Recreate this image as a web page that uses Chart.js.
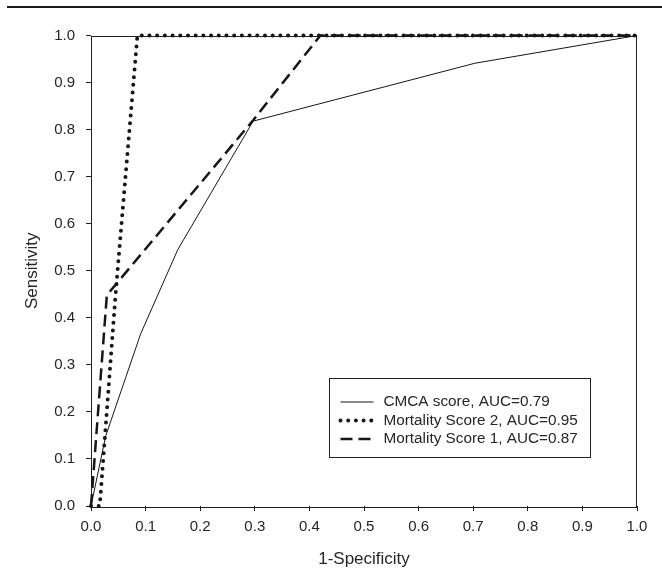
<!DOCTYPE html>
<html>
<head>
<meta charset="utf-8">
<script src="https://cdn.jsdelivr.net/npm/chart.js@4"></script>
<style>
  html, body { margin: 0; padding: 0; background: #fff; }
  #wrap { position: relative; width: 662px; height: 570px; }
  #rule { position: absolute; left: 7px; right: 0; top: 6px; height: 2px; background: #1a1a1a; }
  canvas { position: absolute; left: 0; top: 0; }
</style>
</head>
<body>
<div id="wrap">
  <canvas id="c" width="662" height="570"></canvas>
  <div id="rule"></div>
</div>
<script>
// ---- data ----
const cmcaX = [0, 0.027, 0.091, 0.159, 0.297, 0.703, 1.0];
const cmcaY = [0, 0.149, 0.366, 0.545, 0.818, 0.941, 1.0];

const ms2X = [0, 0.016, 0.045, 0.085, 1.0];
const ms2Y = [0, 0, 0.45, 1.0, 1.0];

const ms1X = [0, 0.029, 0.297, 0.42, 1.0];
const ms1Y = [0, 0.448, 0.82, 1.0, 1.0];

const seriesLabels = ["CMCA score, AUC=0.79", "Mortality Score 2, AUC=0.95", "Mortality Score 1, AUC=0.87"];
const xTitle = "1-Specificity";
const yTitle = "Sensitivity";

const toPts = (xs, ys) => xs.map((x, i) => ({ x: x, y: ys[i] }));
const INK = '#161616';
const TXT = '#262626';
const FONT = "'Liberation Sans', Arial, Helvetica, sans-serif";

const boxPlugin = {
  id: 'box',
  beforeDatasetsDraw(chart) {
    const a = chart.chartArea, ctx = chart.ctx;
    ctx.save();
    ctx.strokeStyle = '#222';
    ctx.lineWidth = 1;
    ctx.strokeRect(Math.round(a.left) + 0.5, Math.round(a.top) + 0.5,
                   Math.round(a.right - a.left) - 1, Math.round(a.bottom - a.top));
    ctx.restore();
  }
};

const legendPlugin = {
  id: 'boxLegend',
  afterDraw(chart) {
    const a = chart.chartArea, ctx = chart.ctx;
    const bx = a.left + 238.5, by = a.top + 343, bw = 261, bh = 79;
    ctx.save();
    ctx.fillStyle = '#fff';
    ctx.fillRect(bx, by, bw, bh);
    ctx.strokeStyle = '#222';
    ctx.lineWidth = 1;
    ctx.strokeRect(bx, by, bw, bh);
    const rowY = [by + 23.5, by + 42, by + 60.5];
    const sx0 = bx + 11, sx1 = bx + 44, tx = bx + 54;
    chart.data.datasets.forEach((ds, i) => {
      const y = rowY[i];
      ctx.beginPath();
      ctx.strokeStyle = INK;
      ctx.lineWidth = ds.borderWidth;
      ctx.lineCap = ds.borderCapStyle || 'butt';
      ctx.setLineDash(ds.borderDash || []);
      ctx.moveTo(sx0, y);
      ctx.lineTo(sx1, y);
      ctx.stroke();
      ctx.setLineDash([]);
      ctx.fillStyle = TXT;
      ctx.font = "15.3px " + FONT;
      ctx.textBaseline = 'middle';
      ctx.textAlign = 'left';
      ctx.fillText(ds.label, tx, y);
    });
    ctx.restore();
  }
};

new Chart(document.getElementById('c'), {
  type: 'scatter',
  data: {
    datasets: [
      { label: seriesLabels[0], data: toPts(cmcaX, cmcaY), showLine: true,
        borderColor: INK, borderWidth: 1, pointRadius: 0, clip: false },
      { label: seriesLabels[1], data: toPts(ms2X, ms2Y), showLine: true,
        borderColor: INK, borderWidth: 4, borderDash: [0, 7.7], borderCapStyle: 'round',
        pointRadius: 0, clip: false },
      { label: seriesLabels[2], data: toPts(ms1X, ms1Y), showLine: true,
        borderColor: INK, borderWidth: 2.5, borderDash: [12, 6],
        pointRadius: 0, clip: false }
    ]
  },
  options: {
    responsive: false,
    animation: false,
    devicePixelRatio: 1,
    layout: { padding: { top: 35.5, right: 25, left: 0, bottom: 0 } },
    plugins: { legend: { display: false }, tooltip: { enabled: false } },
    scales: {
      x: {
        type: 'linear', min: 0, max: 1,
        afterFit(s) { s.height = 64; },
        ticks: { stepSize: 0.1, padding: 7, color: TXT, font: { family: FONT, size: 15 },
                 callback: v => Number(v).toFixed(1), maxRotation: 0 },
        grid: { drawOnChartArea: false, drawTicks: true, tickLength: 5, color: '#222' },
        border: { display: false },
        title: { display: true, text: xTitle, color: TXT, font: { family: FONT, size: 17 },
                 padding: { top: 0, bottom: 0 } }
      },
      y: {
        type: 'linear', min: 0, max: 1,
        afterFit(s) { s.width = 91; },
        ticks: { stepSize: 0.1, padding: 11, color: TXT, font: { family: FONT, size: 15 },
                 callback: v => Number(v).toFixed(1) },
        grid: { drawOnChartArea: false, drawTicks: true, tickLength: 5, color: '#222' },
        border: { display: false },
        title: { display: true, text: yTitle, color: TXT, font: { family: FONT, size: 17 },
                 padding: { top: 22, bottom: 0 } }
      }
    }
  },
  plugins: [boxPlugin, legendPlugin]
});
</script>
</body>
</html>
